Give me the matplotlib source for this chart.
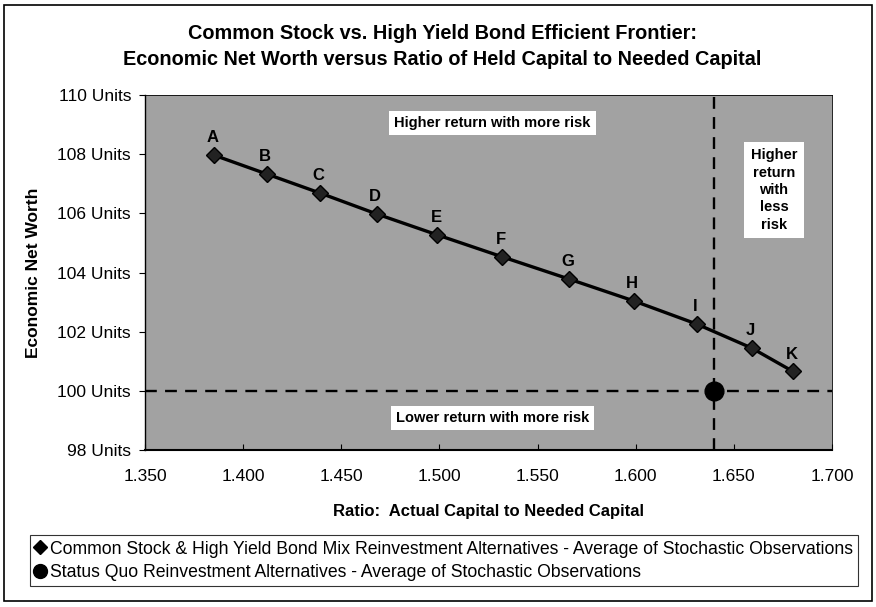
import matplotlib
matplotlib.use("Agg")
import matplotlib.pyplot as plt
from matplotlib.patches import Rectangle
from matplotlib.lines import Line2D

plt.rcParams["font.family"] = ["Liberation Sans", "DejaVu Sans"]

# frontier points (ratio of capital, economic net worth)
labels = ["A", "B", "C", "D", "E", "F", "G", "H", "I", "J", "K"]
ratio = [1.385, 1.412, 1.439, 1.468, 1.499, 1.532, 1.566, 1.599, 1.631, 1.659, 1.680]
net_worth = [107.97, 107.33, 106.69, 105.98, 105.27, 104.53, 103.78, 103.04, 102.26, 101.45, 100.66]
status_quo_ratio = [1.640]
status_quo_worth = [100.0]

xticks = [1.35, 1.40, 1.45, 1.50, 1.55, 1.60, 1.65, 1.70]
yticks = [98, 100, 102, 104, 106, 108, 110]

fig = plt.figure(figsize=(8.76, 6.07), dpi=100)
ax = fig.add_axes([0.1655, 0.2586, 0.7843, 0.5849])
ax.set_facecolor("#a2a2a2")

ax.axhline(status_quo_worth[0], color="black", lw=1.7, ls=(0, (5, 3.5)), zorder=2)
ax.axvline(status_quo_ratio[0], color="black", lw=1.7, ls=(0, (5, 3.5)), zorder=2)

ax.plot(ratio, net_worth, color="black", lw=2.4, marker="D", ms=8.5,
        mfc="#222222", mec="black", zorder=3)
ax.plot(status_quo_ratio, status_quo_worth, "o", color="black", ms=13.5, zorder=4)

for lab, x, y in zip(labels, ratio, net_worth):
    ax.annotate(lab, (x, y), xytext=(-1, 7), textcoords="offset points",
                ha="center", va="bottom", fontsize=12, fontweight="bold")

box = dict(boxstyle="square,pad=0.35", fc="white", ec="none")
ax.text(1.527, 109.05, "Higher return with more risk", ha="center", va="center",
        fontsize=10.5, fontweight="bold", bbox=box)
ax.text(1.527, 99.09, "Lower return with more risk", ha="center", va="center",
        fontsize=10.5, fontweight="bold", bbox=box)
ax.text(1.6704, 106.79, "Higher\nreturn\nwith\nless\nrisk", ha="center", va="center",
        fontsize=10.5, fontweight="bold", linespacing=1.3,
        bbox=dict(boxstyle="square,pad=0.45", fc="white", ec="none"))

ax.set_xlim(1.35, 1.70)
ax.set_ylim(98, 110)
ax.set_xticks(xticks)
ax.set_xticklabels([f"{t:.3f}" for t in xticks], fontsize=12.5)
ax.set_yticks(yticks)
ax.set_yticklabels([f"{t} Units" for t in yticks], fontsize=12.5)
ax.tick_params(axis="x", direction="in", length=4, pad=14)
ax.tick_params(axis="y", direction="out", length=4, pad=6)
for side in ["top", "right"]:
    ax.spines[side].set_linewidth(0.6)
ax.spines["bottom"].set_linewidth(1.5)
ax.spines["left"].set_linewidth(1.0)

ax.set_ylabel("Economic Net Worth", fontsize=12.5, fontweight="bold", labelpad=12)
ax.set_xlabel("Ratio:  Actual Capital to Needed Capital", fontsize=12,
              fontweight="bold", labelpad=14)

fig.text(0.505, 0.944, "Common Stock vs. High Yield Bond Efficient Frontier:",
         ha="center", va="center", fontsize=14.3, fontweight="bold")
fig.text(0.505, 0.902, "Economic Net Worth versus Ratio of Held Capital to Needed Capital",
         ha="center", va="center", fontsize=14.3, fontweight="bold")

# outer frame
fig.patches.append(Rectangle((0.005, 0.01), 0.99, 0.982, transform=fig.transFigure,
                             fill=False, ec="black", lw=1.2))

handles = [
    Line2D([], [], ls="none", marker="D", ms=7, color="black"),
    Line2D([], [], ls="none", marker="o", ms=10, color="black"),
]
leg = fig.legend(handles,
                 ["Common Stock & High Yield Bond Mix Reinvestment Alternatives - Average of Stochastic Observations",
                  "Status Quo Reinvestment Alternatives - Average of Stochastic Observations"],
                 loc="upper left", bbox_to_anchor=(0.034, 0.04, 0.945, 0.078), mode="expand",
                 fontsize=12.7, frameon=True, fancybox=False, handlelength=0.6,
                 handletextpad=0.25, borderpad=0.3, labelspacing=0.35, borderaxespad=0)
leg.get_frame().set_edgecolor("black")
leg.get_frame().set_linewidth(0.8)

fig.savefig("out.png", dpi=100)
